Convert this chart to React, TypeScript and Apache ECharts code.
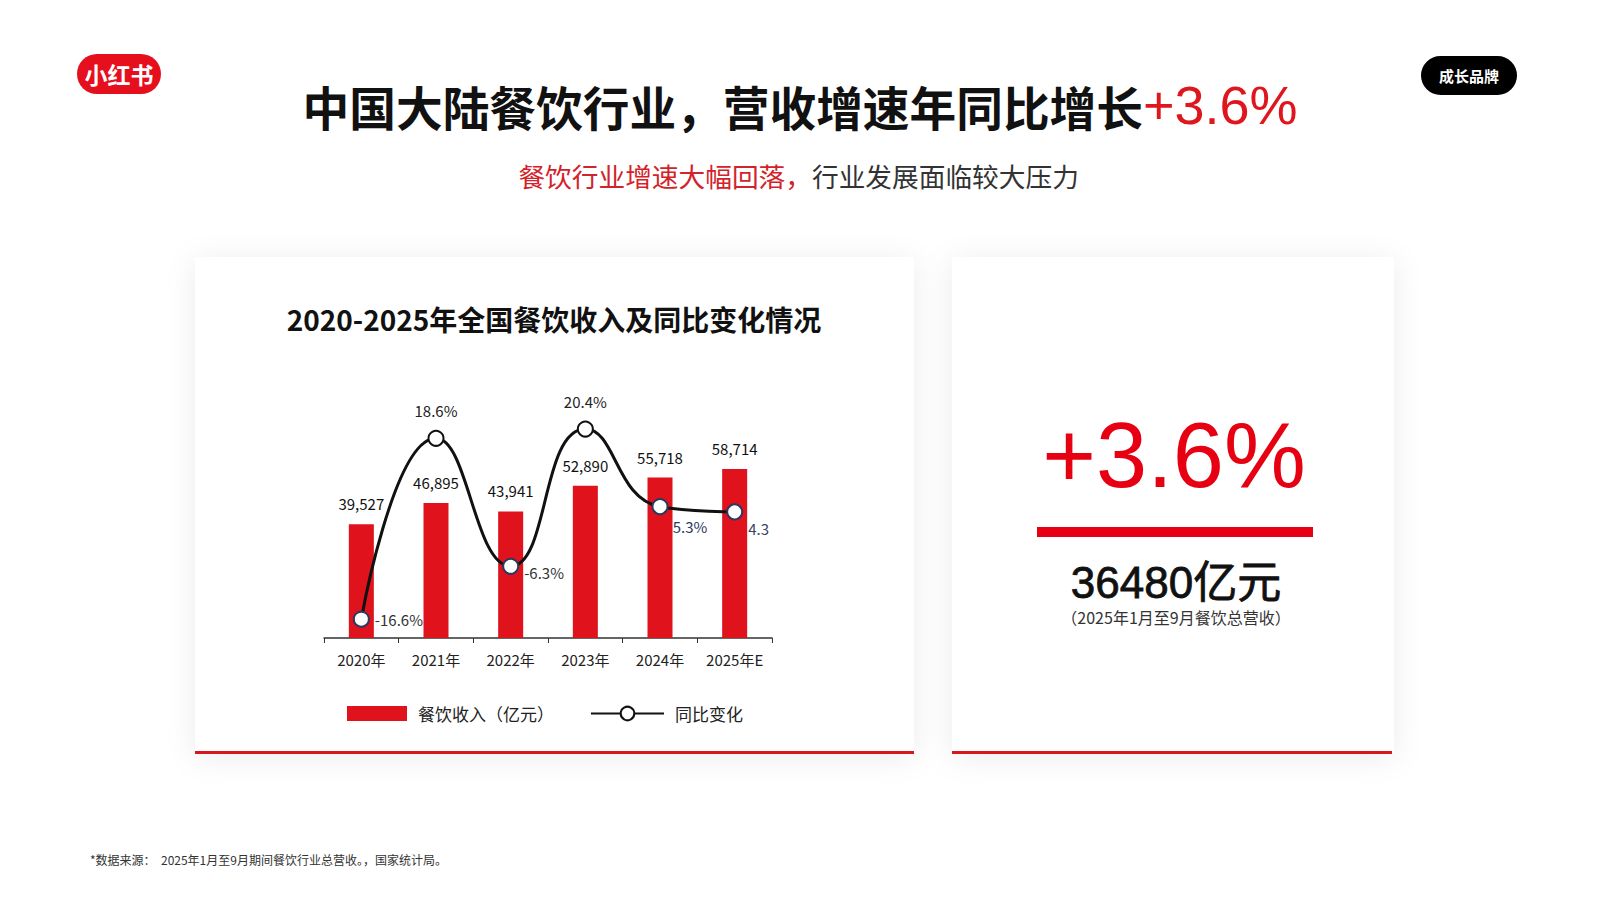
import React, { useEffect, useRef } from "react";
import * as echarts from "echarts";

const categories = ["2020年", "2021年", "2022年", "2023年", "2024年", "2025年E"];
const revenue = [39527, 46895, 43941, 52890, 55718, 58714];
const yoy = [-16.6, 18.6, -6.3, 20.4, 5.3, 4.3];
const revenueName = "餐饮收入（亿元）";
const yoyName = "同比变化";

const CJK = "'Noto Sans CJK SC', 'Noto Sans', sans-serif";
const ARIAL = "'Liberation Sans', 'Noto Sans CJK SC', sans-serif";

function txt(x: number, y: number, text: string, s: any) {
  const align = s.align || "center";
  const v = s.verticalAlign || "middle";
  const style: any = {
    text,
    fill: s.fill || "#111",
    fontSize: s.fontSize || 14,
    fontWeight: s.fontWeight || "normal",
    fontFamily: s.fontFamily || CJK,
    align,
    textAlign: align,
    verticalAlign: v,
    textVerticalAlign: v,
  };
  if (s.stroke) {
    style.stroke = s.stroke;
    style.lineWidth = s.lineWidth || 1;
  }
  return { type: "text", x, y, z: 10, style };
}

export default function App() {
  const ref = useRef<HTMLDivElement>(null);
  useEffect(() => {
    if (!ref.current) return;
    const chart = echarts.init(ref.current, null, { renderer: "svg" });
    const navy = "#2b3862";
    const lineData = yoy.map((v, i) => {
      const item: any = { value: v };
      const dark = i === 1 || i === 3;
      item.itemStyle = { color: "#fff", borderColor: dark ? "#111" : navy, borderWidth: 2 };
      if (i === 1 || i === 3) {
        item.label = { position: "top", distance: 12, color: "#222" };
      } else if (i === 0) {
        item.label = { position: "right", distance: 5, color: "#333" };
      } else if (i === 2) {
        item.label = { position: "right", distance: 5, offset: [0, 6], color: "#333" };
      } else if (i === 4) {
        item.label = { position: "bottom", distance: 4, offset: [30, 0], color: navy };
      } else {
        item.label = { position: "right", distance: 5, offset: [0, 17], color: "#3a4466", formatter: "{c}" };
      }
      return item;
    });

    const option: any = {
      animation: false,
      backgroundColor: "#ffffff",
      textStyle: { fontFamily: CJK },
      graphic: [
        {
          type: "rect",
          z: 0,
          shape: { x: 195, y: 257, width: 719, height: 496 },
          style: { fill: "#fff", shadowBlur: 30, shadowColor: "rgba(0,0,0,0.08)", shadowOffsetY: 4 },
        },
        {
          type: "rect",
          z: 0,
          shape: { x: 952, y: 257, width: 442, height: 496 },
          style: { fill: "#fff", shadowBlur: 30, shadowColor: "rgba(0,0,0,0.08)", shadowOffsetY: 4 },
        },
        { type: "rect", z: 1, shape: { x: 195, y: 751, width: 719, height: 3 }, style: { fill: "#d7161f" } },
        { type: "rect", z: 1, shape: { x: 952, y: 751, width: 440, height: 3 }, style: { fill: "#d7161f" } },
        // logo
        { type: "rect", z: 1, shape: { x: 77, y: 54, width: 84, height: 40, r: 20 }, style: { fill: "#e60f1e" } },
        txt(119, 74, "小红书", { fill: "#fff", fontSize: 23, fontWeight: "bold" }),
        // badge
        { type: "rect", z: 1, shape: { x: 1421, y: 56, width: 96, height: 39, r: 19.5 }, style: { fill: "#000" } },
        txt(1469, 75.5, "成长品牌", { fill: "#fff", fontSize: 15, fontWeight: "bold" }),
        // main title
        txt(1143, 105, "中国大陆餐饮行业，营收增速年同比增长", { fontSize: 46.7, fontWeight: "bold", align: "right", fill: "#111" }),
        txt(1143, 105, "+3.6%", { fontSize: 54, fontFamily: ARIAL, align: "left", fill: "#e0161e" }),
        // subtitle
        txt(812, 175, "餐饮行业增速大幅回落，", { fontSize: 26.7, align: "right", fill: "#d3222a" }),
        txt(812, 175, "行业发展面临较大压力", { fontSize: 26.7, align: "left", fill: "#333" }),
        // chart title
        txt(554, 319, "2020-2025年全国餐饮收入及同比变化情况", { fontSize: 28, fontWeight: "bold", fill: "#111" }),
        // right card
        txt(1174, 455, "+3.6%", { fontSize: 92, fontFamily: ARIAL, fill: "#e60012" }),
        { type: "rect", z: 1, shape: { x: 1037, y: 527, width: 276, height: 10 }, style: { fill: "#e60012" } },
        txt(1176, 582, "36480亿元", { fontSize: 44, fontFamily: ARIAL, fill: "#111", stroke: "#111", lineWidth: 0.8 }),
        txt(1176, 617, "（2025年1月至9月餐饮总营收）", { fontSize: 16, fill: "#333" }),
        // footnote
        txt(90, 859, "*数据来源：  2025年1月至9月期间餐饮行业总营收。，国家统计局。", { fontSize: 12, align: "left", fill: "#333" }),
      ],
      legend: [
        {
          data: [revenueName],
          left: 347,
          top: 705,
          padding: 0,
          itemWidth: 60,
          itemHeight: 15,
          icon: "rect",
          textStyle: { fontSize: 17, color: "#222", padding: [0, 0, 0, 6] },
        },
        {
          data: [yoyName],
          left: 590,
          top: 705,
          padding: 0,
          itemWidth: 73,
          itemHeight: 17,
          textStyle: { fontSize: 17, color: "#222", padding: [0, 0, 0, 6] },
        },
      ],
      grid: { left: 324, top: 350, width: 448, height: 288, containLabel: false },
      xAxis: {
        type: "category",
        data: categories,
        boundaryGap: true,
        axisLine: { lineStyle: { color: "#333", width: 1.5 } },
        axisTick: { show: true, length: 5, lineStyle: { color: "#333" } },
        axisLabel: { fontSize: 15, color: "#222", margin: 14 },
      },
      yAxis: [
        { type: "value", min: 0, max: 100000, show: false, splitLine: { show: false } },
        { type: "value", min: -20.25, max: 35.78, show: false, splitLine: { show: false } },
      ],
      series: [
        {
          name: revenueName,
          type: "bar",
          data: revenue,
          barWidth: 25,
          itemStyle: { color: "#e0121c" },
          label: {
            show: true,
            position: "top",
            distance: 13,
            fontSize: 15,
            color: "#111",
            formatter: (p: any) => Number(p.value).toLocaleString("en-US"),
          },
          z: 2,
        },
        {
          name: yoyName,
          type: "line",
          yAxisIndex: 1,
          data: lineData,
          smooth: 0.5,
          symbol: "circle",
          symbolSize: 15,
          lineStyle: { color: "#111", width: 3 },
          itemStyle: { color: "#fff", borderColor: "#111", borderWidth: 2 },
          label: { show: true, fontSize: 15, formatter: "{c}%" },
          z: 5,
        },
      ],
    };
    chart.setOption(option);
    return () => chart.dispose();
  }, []);
  return (
    <div
      ref={ref}
      style={{ position: "fixed", left: 0, top: 0, width: 1600, height: 899, background: "#fff" }}
    />
  );
}
